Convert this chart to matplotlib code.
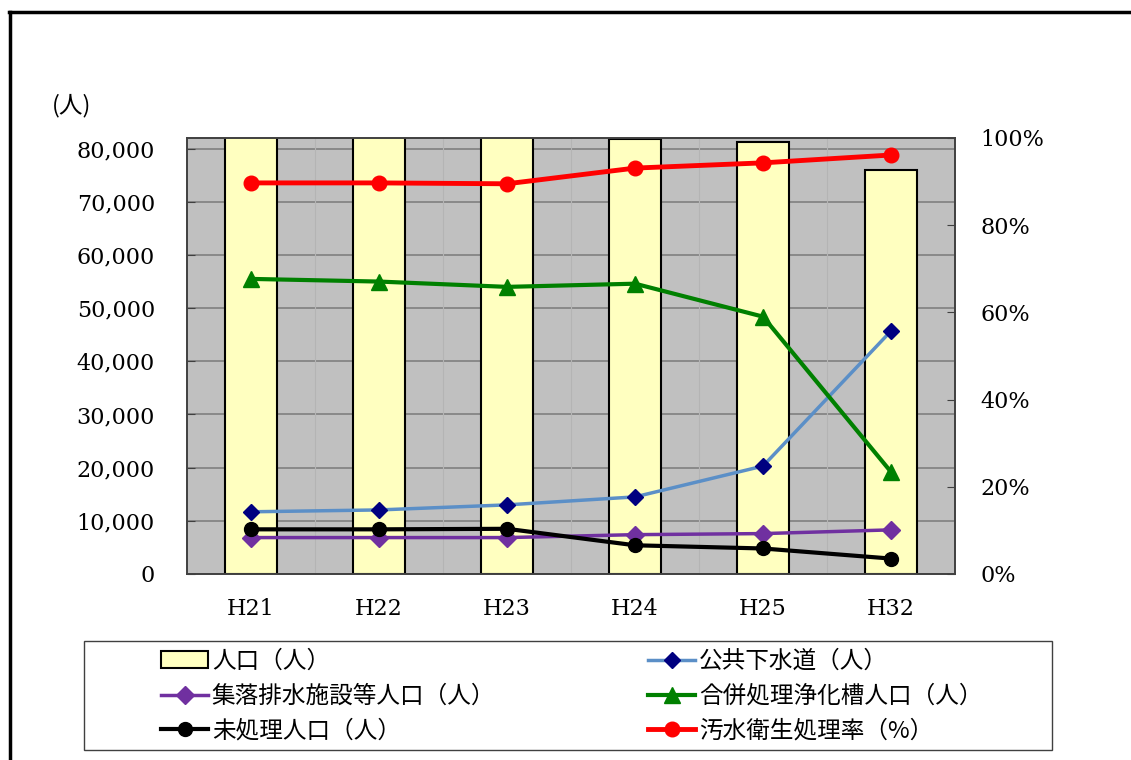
import matplotlib.pyplot as plt
import matplotlib.patches as mpatches
from matplotlib.lines import Line2D
import numpy as np

# data
years = ["H21", "H22", "H23", "H24", "H25", "H32"]
population = [83500, 83000, 82600, 81800, 81250, 76050]      # 人口（人）
sewer = [11700, 12050, 13000, 14500, 20300, 45700]           # 公共下水道（人）
rural = [6850, 6850, 6850, 7400, 7600, 8300]                 # 集落排水施設等人口（人）
septic = [55500, 55000, 54000, 54600, 48400, 19200]          # 合併処理浄化槽人口（人）
untreated = [8400, 8400, 8500, 5400, 4800, 2900]             # 未処理人口（人）
rate = [89.7, 89.7, 89.5, 93.1, 94.3, 96.1]                  # 汚水衛生処理率（%）

W, H = 1131, 760
fig = plt.figure(figsize=(W / 100, H / 100), dpi=100)
serif = "DejaVu Serif"
jp = ["Noto Sans CJK JP", "DejaVu Sans"]

ax = fig.add_axes([187 / W, 1 - 574 / H, (955 - 187) / W, (574 - 138) / H])
ax.set_facecolor("#c0c0c0")
x = np.arange(len(years))

ax.bar(x, population, width=0.4, color="#ffffc0", edgecolor="black", linewidth=1.5, zorder=2)
ax.set_xlim(-0.5, len(years) - 0.5)
ax.set_ylim(0, 82000)
ax.set_yticks(np.arange(0, 80001, 10000))
ax.set_yticklabels([f"{v:,}" for v in range(0, 80001, 10000)], fontfamily=serif, fontsize=16)
ax.grid(axis="y", color="#808080", linewidth=1.2, zorder=1)
for b in np.arange(0.5, len(years) - 0.5):
    ax.axvline(b, color="#b4b4b4", linewidth=0.8, zorder=1)
ax.set_axisbelow(True)

ax.set_xticks(x)
ax.set_xticklabels(years, fontfamily=serif, fontsize=16)
ax.set_xticks(np.arange(0.5, len(years) - 0.5), minor=True)
ax.tick_params(axis="x", which="major", length=0, pad=17)
ax.tick_params(axis="x", which="minor", direction="in", length=6, color="#404040")
ax.tick_params(axis="y", direction="in", length=6, color="#404040", pad=23)

l_sewer, = ax.plot(x, sewer, color="#5b8fc7", linewidth=2.5, marker="D", markersize=8.5,
                   markerfacecolor="#000080", markeredgecolor="#000080", zorder=4)
l_rural, = ax.plot(x, rural, color="#7030a0", linewidth=2.5, marker="D", markersize=9,
                   markerfacecolor="#7030a0", markeredgecolor="#7030a0", zorder=4)
l_septic, = ax.plot(x, septic, color="#008000", linewidth=3, marker="^", markersize=11,
                    zorder=4)
l_untreated, = ax.plot(x, untreated, color="black", linewidth=3, marker="o", markersize=10,
                       zorder=5)

ax2 = ax.twinx()
l_rate, = ax2.plot(x, rate, color="#ff0000", linewidth=3.5, marker="o", markersize=10.5, zorder=5)
ax2.set_ylim(0, 100)
ax2.set_yticks(np.arange(0, 101, 20))
ax2.set_yticklabels([f"{v}%" for v in range(0, 101, 20)], fontfamily=serif, fontsize=16)
ax2.tick_params(axis="y", direction="in", length=6, color="#404040", pad=18)

for a in (ax, ax2):
    for s in a.spines.values():
        s.set_color("#404040")
        s.set_linewidth(1.2)

fig.text(52 / W, 1 - 106 / H, "(人)", fontfamily=jp, fontsize=17, va="center", ha="left")

# legend
bar_h = mpatches.Patch(facecolor="#ffffc0", edgecolor="black", linewidth=1.5)
col1 = [(bar_h, "人口（人）"), (l_rural, "集落排水施設等人口（人）"), (l_untreated, "未処理人口（人）")]
col2 = [(l_sewer, "公共下水道（人）"), (l_septic, "合併処理浄化槽人口（人）"), (l_rate, "汚水衛生処理率（%）")]
for items, x0 in ((col1, 161), (col2, 648)):
    fig.legend([h for h, _ in items], [t for _, t in items], loc="upper left",
               bbox_to_anchor=(x0 / W, 1 - 650 / H), frameon=False,
               prop={"family": jp, "size": 17}, handlelength=2.0, handletextpad=0.15,
               labelspacing=0.5, borderpad=0, borderaxespad=0)

fig.add_artist(mpatches.Rectangle((84 / W, 1 - 750 / H), (1052 - 84) / W, (750 - 641) / H,
                                  transform=fig.transFigure, fill=False, edgecolor="#404040",
                                  linewidth=1))

# outer frame
fig.add_artist(Line2D([9.5 / W, 9.5 / W], [0, 1 - 11.5 / H], transform=fig.transFigure,
                      color="black", linewidth=2.5))
fig.add_artist(Line2D([8.5 / W, 1], [1 - 11.5 / H, 1 - 11.5 / H], transform=fig.transFigure,
                      color="black", linewidth=2.5))

fig.savefig("out.png", dpi=100)
